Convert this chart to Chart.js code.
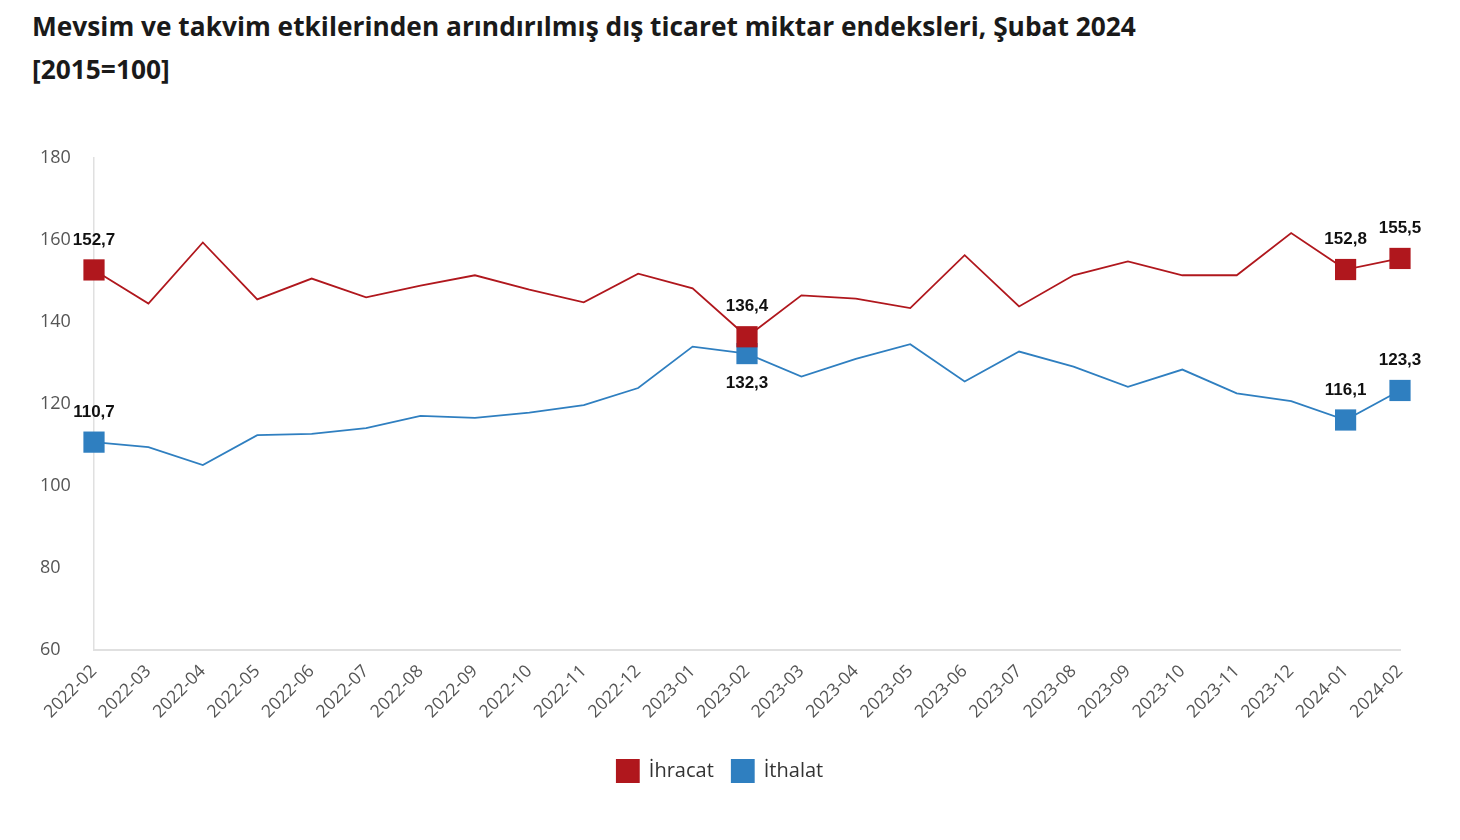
<!DOCTYPE html>
<html>
<head>
<meta charset="utf-8">
<script src="https://cdn.jsdelivr.net/npm/chart.js@4.4.1/dist/chart.umd.min.js"></script>
<style>
  body { margin: 0; background: #fff; }
  #wrap { position: relative; width: 1460px; height: 840px; }
  #title {
    position: absolute; left: 32px; top: 5px;
    font-family: 'Open Sans', sans-serif; font-weight: 700; font-size: 26.3px;
    line-height: 43px; color: #1a1a1a;
  }
  canvas { position: absolute; left: 0; top: 0; }
</style>
</head>
<body>
<div id="wrap">
  <div id="title">Mevsim ve takvim etkilerinden arındırılmış dış ticaret miktar endeksleri, Şubat 2024<br>[2015=100]</div>
  <canvas id="chart" width="1460" height="840"></canvas>
</div>
<script>
const months = ['2022-02','2022-03','2022-04','2022-05','2022-06','2022-07','2022-08','2022-09','2022-10','2022-11','2022-12',
  '2023-01','2023-02','2023-03','2023-04','2023-05','2023-06','2023-07','2023-08','2023-09','2023-10','2023-11','2023-12',
  '2024-01','2024-02'];
const ihracat = [152.7,144.5,159.4,145.5,150.6,146.0,148.9,151.4,147.9,144.8,151.8,148.2,136.4,
  146.5,145.7,143.4,156.3,143.8,151.4,154.8,151.4,151.4,161.7,152.8,155.5];
const ithalat = [110.7,109.5,105.1,112.4,112.7,114.1,117.1,116.6,117.9,119.7,123.9,134.0,132.3,
  126.7,131.0,134.6,125.5,132.8,129.1,124.2,128.4,122.6,120.7,116.1,123.3];
const yTicks = [60, 80, 100, 120, 140, 160, 180];
const markedPoints = [0, 12, 23, 24];
// blue label at 2023-02 sits below the marker
const labelBelow = { 1: [12] };

const red = '#b0171d';
const blue = '#2f7fc0';

const pointLabels = {
  id: 'pointLabels',
  afterDatasetsDraw(chart) {
    const ctx = chart.ctx;
    ctx.save();
    ctx.font = 'bold 17px "Liberation Sans", Arial, sans-serif';
    ctx.fillStyle = '#111';
    ctx.textAlign = 'center';
    ctx.textBaseline = 'middle';
    chart.data.datasets.forEach((ds, di) => {
      const meta = chart.getDatasetMeta(di);
      markedPoints.forEach(i => {
        const pt = meta.data[i];
        const below = (labelBelow[di] || []).includes(i);
        const txt = ds.data[i].toFixed(1).replace('.', ',');
        ctx.fillText(txt, pt.x, pt.y + (below ? 30 : -30));
      });
    });
    ctx.restore();
  }
};

const radius = c => markedPoints.includes(c.dataIndex) ? 15 : 0;

new Chart(document.getElementById('chart'), {
  type: 'line',
  data: {
    labels: months,
    datasets: [
      { label: 'İhracat', data: ihracat, borderColor: red, backgroundColor: red, borderWidth: 1.8,
        pointStyle: 'rect', pointRadius: radius, pointBorderWidth: 0, tension: 0 },
      { label: 'İthalat', data: ithalat, borderColor: blue, backgroundColor: blue, borderWidth: 1.8,
        pointStyle: 'rect', pointRadius: radius, pointBorderWidth: 0, tension: 0 }
    ]
  },
  options: {
    responsive: false,
    animation: false,
    events: [],
    layout: { padding: { left: 40, top: 158, right: 60, bottom: 48 } },
    scales: {
      x: {
        offset: false,
        grid: { display: false },
        border: { color: '#e0e0e0', width: 2 },
        ticks: {
          minRotation: 45, maxRotation: 45, autoSkip: false,
          color: '#555', font: { family: 'Open Sans', size: 17.5 }
        },
        afterFit: s => { s.height = 92; }
      },
      y: {
        min: 60, max: 180,
        afterBuildTicks: s => { s.ticks = yTicks.map(v => ({ value: v })); },
        grid: { display: false },
        border: { color: '#e0e0e0', width: 1.5 },
        ticks: {
          crossAlign: 'far', padding: 6,
          color: '#555', font: { family: 'Open Sans', size: 18 }
        },
        afterFit: s => { s.width = 54; }
      }
    },
    plugins: {
      legend: {
        position: 'bottom',
        labels: {
          boxWidth: 22, boxHeight: 22, padding: 18,
          color: '#333', font: { family: 'Open Sans', size: 20 }
        }
      },
      tooltip: { enabled: false }
    }
  },
  plugins: [pointLabels]
});
</script>
</body>
</html>
